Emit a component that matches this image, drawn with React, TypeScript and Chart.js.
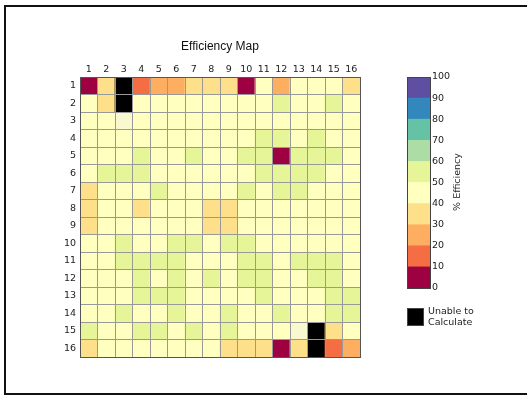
import React, { useEffect, useRef } from 'react';
import { Chart, registerables } from 'chart.js';

Chart.register(...registerables);

const colLabels = ['1', '2', '3', '4', '5', '6', '7', '8', '9', '10', '11', '12', '13', '14', '15', '16'];
const rowLabels = ['1', '2', '3', '4', '5', '6', '7', '8', '9', '10', '11', '12', '13', '14', '15', '16'];

const binEdges = [0, 10, 20, 30, 40, 50, 60, 70, 80, 90, 100];
const binColors = ['#9e0142', '#f46d43', '#fdae61', '#fee08b', '#ffffbf', '#e6f598', '#abdda4', '#66c2a5', '#3288bd', '#5e4fa2'];
const unableColor = '#000000';
const markedColor = '#f9f9cf';
const legendLabel = ['Unable to', 'Calculate'];
const titleText = 'Efficiency Map';
const colorbarTitle = '% Efficiency';

const U = null; // unable to calculate
const P = -1; // marked (pale) cell

// efficiency per row (row 1 at top), per column 1..16
const efficiency: (number | null)[][] = [
  [5, 35, U, 15, 25, 25, 35, 35, 35, 5, 45, 25, 45, 45, 45, 35],
  [45, 35, U, 45, 45, 45, 45, 45, 45, 45, 45, 55, 45, 45, 55, 45],
  [45, 45, P, 45, 45, 45, 45, 45, 45, 45, 45, 45, 45, 45, 45, 45],
  [45, 45, 45, 45, 45, 45, 45, 45, 45, 45, 55, 55, 45, 55, 45, 45],
  [45, 45, 45, 55, 45, 45, 55, 45, 45, 55, 55, 5, 55, 55, 55, 45],
  [45, 55, 55, 55, 45, 45, 45, 45, 45, 45, 55, 55, 55, 55, 45, 45],
  [35, 45, 45, 45, 55, 45, 45, 45, 45, 55, 45, 55, 55, 45, 45, 45],
  [35, 45, 45, 35, 45, 45, 45, 35, 35, 45, 45, 45, 45, 45, 45, 45],
  [35, 45, 45, 45, 45, 45, 45, 35, 35, 45, 45, 45, 45, 45, 45, 45],
  [45, 45, 55, 45, 45, 55, 55, 45, 55, 55, 45, 45, 45, 45, 45, 45],
  [45, 45, 55, 55, 55, 55, 45, 45, 45, 55, 55, 45, 55, 55, 55, 45],
  [45, 45, 45, 55, 45, 55, 45, 55, 45, 55, 55, 45, 45, 55, 55, 45],
  [45, 45, 45, 55, 55, 55, 45, 45, 45, 45, 55, 45, 45, 45, 55, 55],
  [45, 45, 55, 45, 45, 55, 45, 45, 55, 45, 45, 55, 45, 45, 55, 55],
  [55, 45, 45, 55, 55, 45, 55, 45, 55, 45, 45, 45, P, U, 35, 45],
  [35, 45, 45, 45, 45, 45, 45, 45, 35, 35, 35, 5, 35, U, 15, 25],
];

function colorFor(v: number | null): string {
  if (v === null) return unableColor;
  if (v < 0) return markedColor;
  const idx = Math.min(binColors.length - 1, Math.max(0, Math.floor(v / 10)));
  return binColors[idx];
}

const tickFont = { family: 'DejaVu Sans', size: 9.5 };
const tickColor = '#222';
const gridColor = '#999999';

function framePlugin(color: string) {
  return {
    id: 'frame',
    afterDraw(chart: any) {
      const { ctx, chartArea: a } = chart;
      ctx.save();
      ctx.strokeStyle = color;
      ctx.lineWidth = 1;
      const l = Math.round(a.left);
      const t = Math.round(a.top);
      const r = Math.round(a.right);
      const b = Math.round(a.bottom);
      ctx.strokeRect(l + 0.5, t + 0.5, r - l, b - t);
      ctx.restore();
    },
  };
}

export default function App() {
  const mainRef = useRef<HTMLCanvasElement>(null);
  const barRef = useRef<HTMLCanvasElement>(null);

  useEffect(() => {
    const mainChart = new Chart(mainRef.current as HTMLCanvasElement, {
      type: 'bar',
      data: {
        labels: colLabels,
        datasets: efficiency.map((row, i) => ({
          label: rowLabels[i],
          data: row.map(() => [i + 0.5, i + 1.5]),
          backgroundColor: row.map(colorFor),
          borderWidth: 0,
          grouped: false,
          barPercentage: 1,
          categoryPercentage: 1,
        })) as any,
      },
      options: {
        responsive: false,
        animation: false,
        devicePixelRatio: 1,
        layout: { padding: { left: 60, top: 57, right: 167, bottom: 39 } },
        plugins: { legend: { display: false }, tooltip: { enabled: false }, title: { display: false } },
        scales: {
          x: {
            type: 'category',
            position: 'top',
            offset: true,
            grid: { display: true, offset: true, color: gridColor, lineWidth: 1, drawTicks: false, z: 1 },
            border: { display: false },
            ticks: { font: tickFont, color: tickColor, padding: 2, maxRotation: 0, autoSkip: false },
            afterFit: (s: any) => { s.height = 20; },
          },
          y: {
            type: 'linear',
            position: 'left',
            reverse: true,
            min: 0.5,
            max: rowLabels.length + 0.5,
            grid: { display: false, drawTicks: false },
            border: { display: false },
            ticks: {
              font: tickFont,
              color: tickColor,
              padding: 4,
              autoSkip: false,
              callback: (_v: any, i: number) => rowLabels[i],
            },
            afterBuildTicks: (s: any) => { s.ticks = rowLabels.map((_, i) => ({ value: i + 1 })); },
            afterFit: (s: any) => { s.width = 20; },
          },
          yGrid: {
            type: 'linear',
            position: 'right',
            reverse: true,
            min: 0.5,
            max: rowLabels.length + 0.5,
            grid: { display: true, color: gridColor, lineWidth: 1, drawTicks: false, z: 1 },
            border: { display: false },
            ticks: { display: false },
            afterBuildTicks: (s: any) => {
              s.ticks = [...rowLabels.map((_, i) => ({ value: i + 0.5 })), { value: rowLabels.length + 0.5 }];
            },
            afterFit: (s: any) => { s.width = 0; },
          },
        } as any,
      },
      plugins: [framePlugin('#555')],
    });

    const bins = binColors.map((_, i) => [binEdges[i], binEdges[i + 1]]);
    const barChart = new Chart(barRef.current as HTMLCanvasElement, {
      type: 'bar',
      data: {
        labels: [''],
        datasets: bins.map((b, i) => ({
          label: `${b[0]}-${b[1]}`,
          data: [b],
          backgroundColor: binColors[i],
          borderWidth: 0,
          grouped: false,
          barPercentage: 1,
          categoryPercentage: 1,
        })) as any,
      },
      options: {
        responsive: false,
        animation: false,
        devicePixelRatio: 1,
        layout: { padding: { left: 407, top: 77, right: 67, bottom: 108 } },
        plugins: { legend: { display: false }, tooltip: { enabled: false } },
        scales: {
          x: { type: 'category', display: false, offset: true },
          y: {
            type: 'linear',
            position: 'right',
            min: binEdges[0],
            max: binEdges[binEdges.length - 1],
            grid: { display: false, drawTicks: false },
            border: { display: false },
            ticks: { font: tickFont, color: tickColor, padding: 2, stepSize: 10, autoSkip: false },
            afterFit: (s: any) => { s.width = 30; },
          },
        } as any,
      },
      plugins: [framePlugin('#444')],
    });

    return () => {
      mainChart.destroy();
      barChart.destroy();
    };
  }, []);

  return (
    <div style={{ position: 'fixed', left: 0, top: 0, width: 527, height: 396, background: '#fff', overflow: 'hidden' }}>
      <div
        style={{
          position: 'absolute', left: 4, top: 5, width: 600, height: 390,
          border: '2px solid #111', boxSizing: 'border-box',
        }}
      />
      <canvas ref={mainRef} width={527} height={396} style={{ position: 'absolute', left: 0, top: 0 }} />
      <canvas ref={barRef} width={527} height={396} style={{ position: 'absolute', left: 0, top: 0 }} />
      <div
        style={{
          position: 'absolute', left: 0, width: 440, top: 39, lineHeight: '14px', textAlign: 'center',
          fontFamily: 'Liberation Sans, Arial, sans-serif', fontSize: 12, color: '#111',
        }}
      >
        {titleText}
      </div>
      <div
        style={{
          position: 'absolute', left: 456, top: 182, transform: 'translate(-50%, -50%) rotate(-90deg)',
          whiteSpace: 'nowrap', fontFamily: 'DejaVu Sans', fontSize: 9.5, color: '#222', lineHeight: '11px',
        }}
      >
        {colorbarTitle}
      </div>
      <div
        style={{
          position: 'absolute', left: 407, top: 308, width: 17, height: 18, background: unableColor,
          boxSizing: 'border-box', border: '1px solid #444',
        }}
      />
      <div
        style={{
          position: 'absolute', left: 428, top: 305, fontFamily: 'DejaVu Sans', fontSize: 9.5,
          color: '#222', lineHeight: '11px', whiteSpace: 'nowrap',
        }}
      >
        {legendLabel.map((t, i) => (
          <div key={i}>{t}</div>
        ))}
      </div>
    </div>
  );
}
